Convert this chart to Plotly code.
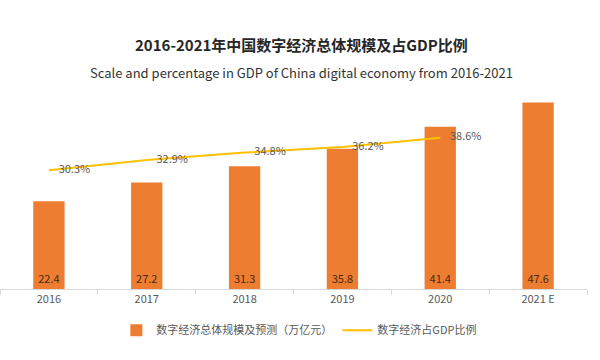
import plotly.graph_objects as go

years = ["2016", "2017", "2018", "2019", "2020", "2021 E"]
scale_values = [22.4, 27.2, 31.3, 35.8, 41.4, 47.6]
share_years = ["2016", "2017", "2018", "2019", "2020"]
share_values = [30.3, 32.9, 34.8, 36.2, 38.6]

bar_name = "数字经济总体规模及预测（万亿元）"
line_name = "数字经济占GDP比例"
title_cn = "2016-2021年中国数字经济总体规模及占GDP比例"
title_en = "Scale and percentage in GDP of China digital economy from 2016-2021"

FONT = "Noto Sans CJK SC, Noto Sans, sans-serif"
GRAY = "#595959"

fig = go.Figure()
fig.add_trace(go.Bar(
    x=years, y=scale_values, name=bar_name,
    marker=dict(color="#ED7D31", line=dict(width=0)),
    text=[f"{v:.1f}" for v in scale_values],
    textposition="inside", insidetextanchor="start",
    textfont=dict(color="#4a2a0e", size=11, family=FONT),
    textangle=0,
))
fig.add_trace(go.Scatter(
    x=share_years, y=share_values, name=line_name, yaxis="y2",
    mode="lines+markers+text",
    line=dict(color="#FFC000", width=2),
    marker=dict(size=14, color="rgba(0,0,0,0)", line=dict(width=0)),
    text=[f"{v:.1f}%" for v in share_values],
    textposition="middle right",
    textfont=dict(color=GRAY, size=11, family=FONT),
))

fig.update_layout(
    width=600, height=360,
    margin=dict(l=0, r=13, t=93, b=71),
    paper_bgcolor="white", plot_bgcolor="white",
    font=dict(family=FONT, color=GRAY, size=11),
    bargap=0.68,
    showlegend=True,
    legend=dict(orientation="h", x=0.51, xanchor="center", y=-0.21, yanchor="middle",
                font=dict(size=11, color=GRAY, family=FONT), itemwidth=30,
                traceorder="normal"),
    xaxis=dict(showline=True, linecolor="#d9d9d9", linewidth=1,
               ticks="outside", tickson="boundaries", ticklen=5, tickcolor="#d9d9d9",
               tickfont=dict(size=11, color=GRAY), showgrid=False),
    yaxis=dict(range=[0, 50], visible=False, showgrid=False),
    yaxis2=dict(range=[0, 50], visible=False, overlaying="y", showgrid=False),
    annotations=[
        dict(text=f"<b>{title_cn}</b>", xref="paper", yref="paper", x=0.514, y=1.245,
             xanchor="center", yanchor="middle", showarrow=False,
             font=dict(size=15, color="#262626", family=FONT)),
        dict(text=title_en, xref="paper", yref="paper", x=0.514, y=1.107,
             xanchor="center", yanchor="middle", showarrow=False,
             font=dict(size=13, color="#333333", family=FONT)),
    ],
)

fig.write_html("out.html", config={"displayModeBar": False},
               post_script="document.body.style.margin='0';")
